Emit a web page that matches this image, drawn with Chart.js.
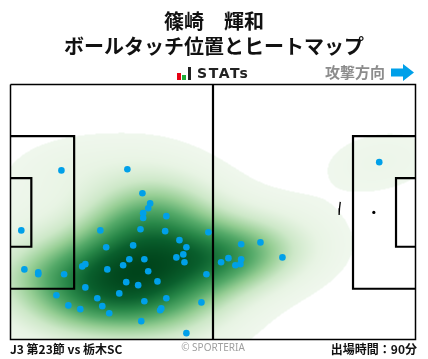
<!DOCTYPE html>
<html>
<head>
<meta charset="utf-8">
<script src="https://cdn.jsdelivr.net/npm/chart.js@4"></script>
<style>
html, body { margin: 0; padding: 0; background: #fff; overflow: hidden; }
canvas { display: block; }
</style>
</head>
<body>
<canvas id="heatChart" width="428" height="359"></canvas>
<script>
// ball touches, metres from own goal line / top touchline
const touchX = [13.2, 30.3, 34.2, 36.2, 35.7, 34.4, 34.4, 40.4, 2.8, 23.3, 33.7, 40.1, 51.3, 43.8, 45.6, 44.8, 43.0, 45.1, 31.8, 24.8,
    30.8, 34.7, 29.2, 19.4, 18.6, 25.1, 35.7, 3.6, 7.2, 7.2, 13.9, 50.8, 38.1, 30.0, 33.1, 19.4, 28.2, 11.9, 22.5, 40.4,
    34.7, 49.5, 15.0, 23.8, 18.1, 39.1, 38.8, 25.6, 33.9, 45.6, 59.8, 64.8, 70.5, 56.5, 54.6, 59.8, 59.6, 58.3, 95.6]
const touchY = [22.9, 22.6, 29.0, 31.7, 33.0, 34.3, 35.6, 35.1, 38.9, 38.9, 38.6, 39.1, 39.4, 41.5, 43.4, 45.3, 46.1, 47.4, 42.9, 43.4,
    46.6, 46.6, 48.2, 47.9, 48.5, 49.3, 49.8, 49.3, 50.1, 50.6, 50.6, 50.6, 52.5, 52.7, 53.5, 54.1, 55.7, 56.2, 57.0, 57.0,
    57.8, 58.1, 58.9, 59.1, 59.9, 59.7, 60.2, 61.0, 63.1, 66.3, 42.6, 42.1, 46.1, 46.3, 47.4, 46.6, 47.9, 48.2, 20.7]

const titleLines = ['篠崎　輝和', 'ボールタッチ位置とヒートマップ']
const matchLabel = 'J3 第23節 vs 栃木SC'
const minutesLabel = '出場時間：90分'
const copyrightLabel = '© SPORTERIA'
const directionLabel = '攻撃方向'
const logoLabel = 'STATs'

const pitchLength = 105
const pitchWidth = 68

// Greens ramp, low density to high
const ramp = [
    [0, 242, 248, 240],
    [0.12, 232, 244, 228],
    [0.25, 205, 232, 200],
    [0.4, 150, 206, 148],
    [0.55, 85, 170, 105],
    [0.7, 40, 135, 72],
    [0.85, 10, 95, 45],
    [1, 0, 68, 27]
]
const heatCutoff = 0.03
const bandwidth = 1.27

function rampColor(t) {
    for (let i = 1; i < ramp.length; i++) {
        if (t <= ramp[i][0]) {
            const a = ramp[i - 1], b = ramp[i]
            const f = (t - a[0]) / (b[0] - a[0])
            return [a[1] + (b[1] - a[1]) * f, a[2] + (b[2] - a[2]) * f, a[3] + (b[3] - a[3]) * f]
        }
    }
    return ramp[ramp.length - 1].slice(1)
}

// gaussian kde with scott bandwidth, same thing the original heatmap looks like
function makeKde(xs, ys) {
    const n = xs.length
    const mx = xs.reduce((s, v) => s + v, 0) / n
    const my = ys.reduce((s, v) => s + v, 0) / n
    let cxx = 0, cyy = 0, cxy = 0
    for (let i = 0; i < n; i++) {
        cxx += (xs[i] - mx) * (xs[i] - mx)
        cyy += (ys[i] - my) * (ys[i] - my)
        cxy += (xs[i] - mx) * (ys[i] - my)
    }
    const f = Math.pow(n, -1 / 3) * bandwidth * bandwidth / (n - 1)
    cxx *= f; cyy *= f; cxy *= f
    const det = cxx * cyy - cxy * cxy
    const ixx = cyy / det, iyy = cxx / det, ixy = -cxy / det
    return function (x, y) {
        let sum = 0
        for (let i = 0; i < n; i++) {
            const dx = x - xs[i], dy = y - ys[i]
            sum += Math.exp(-0.5 * (ixx * dx * dx + 2 * ixy * dx * dy + iyy * dy * dy))
        }
        return sum
    }
}

const heatPlugin = {
    id: 'heat',
    afterLayout(chart) {
        // title sits 1px right of the pitch centre in the original
        chart.titleBlock.left += 1
        chart.titleBlock.right += 1
    },
    beforeDatasetsDraw(chart) {
        const { ctx, chartArea, scales } = chart
        const w = Math.round(chartArea.right - chartArea.left)
        const h = Math.round(chartArea.bottom - chartArea.top)
        const kde = makeKde(touchX, touchY)
        const values = new Float64Array(w * h)
        let peak = 0
        for (let j = 0; j < h; j++) {
            const y = scales.y.getValueForPixel(chartArea.top + j + 0.5)
            for (let i = 0; i < w; i++) {
                const x = scales.x.getValueForPixel(chartArea.left + i + 0.5)
                const v = kde(x, y)
                values[j * w + i] = v
                if (v > peak) peak = v
            }
        }
        const off = document.createElement('canvas')
        off.width = w
        off.height = h
        const octx = off.getContext('2d')
        const img = octx.createImageData(w, h)
        for (let p = 0; p < values.length; p++) {
            const t = values[p] / peak
            if (t < heatCutoff) continue
            const c = rampColor(t)
            img.data[p * 4] = c[0]
            img.data[p * 4 + 1] = c[1]
            img.data[p * 4 + 2] = c[2]
            img.data[p * 4 + 3] = 255
        }
        octx.putImageData(img, 0, 0)
        ctx.drawImage(off, chartArea.left, chartArea.top)
    }
}

const labelsPlugin = {
    id: 'labels',
    afterDraw(chart) {
        const { ctx } = chart
        ctx.save()
        ctx.textBaseline = 'middle'
        ctx.fillStyle = '#111'
        ctx.font = 'bold 12px "Noto Sans CJK JP"'
        ctx.textAlign = 'left'
        ctx.fillText(matchLabel, 10, 349.5)
        ctx.textAlign = 'right'
        ctx.fillText(minutesLabel, 417, 349.5)
        ctx.textAlign = 'center'
        ctx.fillStyle = '#a0a0a0'
        ctx.font = '10px "Noto Sans"'
        ctx.fillText(copyrightLabel, 213, 348.5)

        ctx.textAlign = 'left'
        ctx.fillStyle = '#8c8c8c'
        ctx.font = 'bold 15px "Noto Sans CJK JP"'
        ctx.fillText(directionLabel, 325, 72)

        // direction arrow
        ctx.fillStyle = '#00a0e9'
        ctx.beginPath()
        ctx.moveTo(391, 68.5)
        ctx.lineTo(403, 68.5)
        ctx.lineTo(403, 64)
        ctx.lineTo(414, 72.5)
        ctx.lineTo(403, 81)
        ctx.lineTo(403, 76.5)
        ctx.lineTo(391, 76.5)
        ctx.closePath()
        ctx.fill()

        // logo bars
        ctx.fillStyle = '#e60012'
        ctx.fillRect(177, 73, 4, 7)
        ctx.fillStyle = '#22ac38'
        ctx.fillRect(182, 75, 4, 5)
        ctx.fillStyle = '#222'
        ctx.fillRect(188, 67, 3, 13)
        ctx.font = '600 14px "DejaVu Sans"'
        ctx.fillStyle = '#222'
        ctx.letterSpacing = '1.6px'
        ctx.fillText(logoLabel, 197, 74)
        ctx.restore()
    }
}

function lineSet(points, width) {
    return {
        type: 'scatter',
        data: points,
        showLine: true,
        pointRadius: 0,
        borderColor: '#000',
        borderWidth: width,
        tension: 0,
        clip: false,
        order: 1
    }
}

function xy(pairs) {
    return pairs.map(p => ({ x: p[0], y: p[1] }))
}

const midY = 34.1
const boxHalf = 20.36, goalHalf = 9.16
const boxDepth = 16.5, goalDepth = 5.4
const farBoxDepth = 16.2, farGoalDepth = 5.05
const spotX = 94.2

const markings = [
    lineSet(xy([[0, 0], [pitchLength, 0], [pitchLength, pitchWidth], [0, pitchWidth], [0, 0]]), 1.5),
    lineSet(xy([[pitchLength / 2, 0], [pitchLength / 2, pitchWidth]]), 2.2),
    lineSet(xy([[0, midY - boxHalf], [boxDepth, midY - boxHalf], [boxDepth, midY + boxHalf], [0, midY + boxHalf]]), 2.2),
    lineSet(xy([[0, midY - goalHalf], [goalDepth, midY - goalHalf], [goalDepth, midY + goalHalf], [0, midY + goalHalf]]), 2.2),
    lineSet(xy([[pitchLength, midY - boxHalf], [pitchLength - farBoxDepth, midY - boxHalf], [pitchLength - farBoxDepth, midY + boxHalf], [pitchLength, midY + boxHalf]]), 2.2),
    lineSet(xy([[pitchLength, midY - goalHalf], [pitchLength - farGoalDepth, midY - goalHalf], [pitchLength - farGoalDepth, midY + goalHalf], [pitchLength, midY + goalHalf]]), 2.2),
    lineSet(xy([[85.5, 31.3], [85.3, 33], [85.2, 34.8]]), 1.3)
]

new Chart(document.getElementById('heatChart'), {
    type: 'scatter',
    data: {
        datasets: [
            {
                data: touchX.map((x, i) => ({ x: x, y: touchY[i] })),
                pointRadius: 3.3,
                pointBackgroundColor: '#00a0e9',
                pointBorderWidth: 0,
                order: 0
            },
            {
                type: 'scatter',
                data: [{ x: spotX, y: midY }],
                pointRadius: 1.6,
                pointBackgroundColor: '#000',
                pointBorderWidth: 0,
                order: 1
            },
            ...markings
        ]
    },
    options: {
        responsive: false,
        animation: false,
        layout: { padding: { left: 10.5, right: 12.5, top: 9, bottom: 19.5 } },
        scales: {
            x: { type: 'linear', min: 0, max: pitchLength, display: false },
            y: { type: 'linear', min: 0, max: pitchWidth, reverse: true, display: false }
        },
        plugins: {
            legend: { display: false },
            tooltip: { enabled: false },
            title: {
                display: true,
                text: titleLines,
                color: '#111',
                font: { family: '"Noto Sans CJK JP"', size: 20, weight: 'bold', lineHeight: 1.25 },
                padding: { top: 0, bottom: 25.5 }
            }
        }
    },
    plugins: [heatPlugin, labelsPlugin]
})
</script>
</body>
</html>
